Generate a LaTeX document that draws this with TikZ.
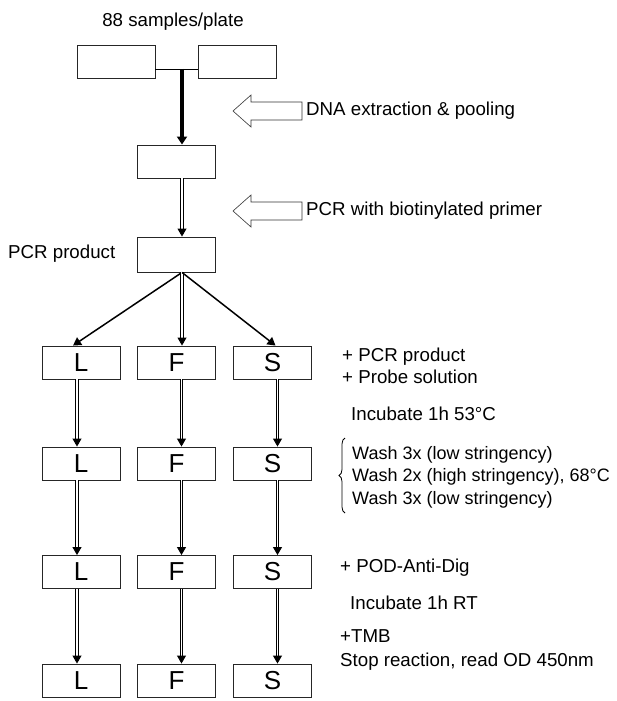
\documentclass[tikz,border=0pt]{standalone}
\usepackage{fontspec}
\setmainfont{Liberation Sans}
\usetikzlibrary{arrows.meta}
\usetikzlibrary{calc}
\usetikzlibrary{decorations.pathreplacing}
\tikzset{well/.style={draw=black!85, line width=0.9pt, minimum width=78pt, minimum height=33pt, inner sep=0pt, font=\fontsize{26}{26}\selectfont}}
\tikzset{note/.style={anchor=west, inner sep=0pt, align=left, font=\fontsize{18.7}{22.5}\selectfont}}
\tikzset{dblarr/.style={double, double distance=1.4pt, line width=0.9pt, -{Triangle[length=8pt,width=9pt]}}}
\tikzset{diagarr/.style={line width=1.5pt, -{Triangle[length=8pt,width=9pt]}}}
\tikzset{fatarr/.style={line width=3.5pt, -{Triangle[length=8pt,width=10pt]}}}
\tikzset{hollow/.style={draw=black!80, line width=0.6pt, fill=white}}

\begin{document}
\begin{tikzpicture}[x=1pt, y=-1pt]
\useasboundingbox (0,0) rectangle (616,701);
% plates and pooled samples
\node[note, anchor=center] (plate) at (173,22) {88 samples/plate};
\node[well] (tl) at (116,61.5) {};
\node[well] (tr) at (237,61.5) {};
\node[well] (mid) at (176.5,161.5) {};
\node[well, minimum height=35pt] (pcr) at (176,254.5) {};
\node[note] (pcrlab) at (8,254) {PCR product};
\coordinate (join) at (182,69);
\draw[line width=0.8pt] (tl.east |- join) -- (tr.west |- join);
\draw[fatarr] (join) -- (join |- mid.north);
\draw[dblarr] (join |- mid.south) -- (join |- pcr.north);
% hollow step arrows
\foreach \y/\name/\txt in {111/ext/DNA extraction \& pooling, 211/amp/PCR with biotinylated primer} {
  \draw[hollow] (302,\y-9) -- (251,\y-9) -- (251,\y-16) -- (233,\y) -- (251,\y+16) -- (251,\y+9) -- (302,\y+9) -- cycle;
  \node[note] (\name) at (306,\y) {\txt};
}
% strips
\foreach \r/\y in {1/362.5, 2/463.5, 3/572, 4/680.5} {
  \node[well] (L\r) at (81,\y) {L};
  \node[well] (F\r) at (176.5,\y) {F};
  \node[well] (S\r) at (272.5,\y) {S};
}
\draw[diagarr] (join |- pcr.south) -- ($(L1.north)+(-8,0)$);
\draw[dblarr] (join |- pcr.south) -- (join |- F1.north);
\draw[diagarr] (join |- pcr.south) -- ($(S1.north)+(3,0)$);
\foreach \c/\off in {L/-4, F/5, S/5} {
  \foreach \a/\b in {1/2, 2/3, 3/4} {
    \draw[dblarr] ($(\c\a.south)+(\off,0)$) -- ($(\c\b.north)+(\off,0)$);
  }
}
% steps
\node[note] (probe) at (342,366) {+ PCR product\\+ Probe solution};
\node[note] (inc1) at (351,414) {Incubate 1h 53°C};
\node[note, font=\fontsize{18}{22.5}\selectfont] (wash) at (352,477) {Wash 3x (low stringency)\\Wash 2x (high stringency), 68°C\\Wash 3x (low stringency)};
\draw[decorate, decoration={brace, amplitude=6pt, mirror}, line width=0.8pt] (345,438) -- (345,513);
\node[note] (pod) at (340,568) {+ POD-Anti-Dig};
\node[note] (inc2) at (350,603) {Incubate 1h RT};
\node[note] (tmb) at (340,650) {+TMB\\[1.5pt]Stop reaction, read OD 450nm};
\end{tikzpicture}
\end{document}
